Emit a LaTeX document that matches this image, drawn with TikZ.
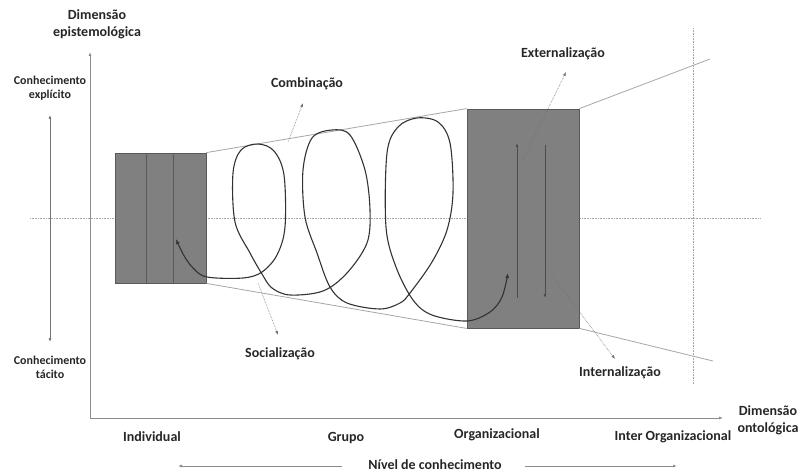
\documentclass[tikz,border=0pt]{standalone}
\usepackage{fontspec}
\setmainfont{Carlito}
\usetikzlibrary{arrows.meta}

\begin{document}
\begin{tikzpicture}[
    x=1pt, y=-1pt,
    lbl/.style={font=\bfseries\fontsize{14}{17}\selectfont, text=black!85, align=center, inner sep=1pt},
    small/.style={lbl, font=\bfseries\fontsize{12}{14}\selectfont},
    tip/.style={-{Latex[length=4pt,width=3pt]}},
    axis/.style={draw=black!45, line width=1pt, tip},
    pointer/.style={draw=black!55, densely dotted, line width=0.6pt, tip},
    block/.style={draw=black!65, fill=black!50, line width=0.8pt, inner sep=0pt},
    guide/.style={draw=black!35, line width=0.8pt},
    grid/.style={draw=black!35, densely dotted, line width=0.6pt},
    spiral/.style={draw=black!80, line width=1.1pt}
]
  \useasboundingbox (0,0) rectangle (801,473);

  % --- GUIDE LINES ---
  \draw[grid] (30,218) -- (760,218);
  \draw[grid] (693,28) -- (693,384);

  % --- AXES ---
  \coordinate (o) at (90,418);
  \coordinate (ytop) at (90,52);
  \coordinate (xend) at (723,418);
  \draw[axis] (o) -- (ytop);
  \draw[axis] (o) -- (xend);

  \node[lbl] (epist) at (97,24) {Dimensão\\epistemológica};
  \node[lbl] (ontol) at (768,420) {Dimensão\\ontológica};

  % tacit / explicit scale
  \node[small] (expl) at (50,88) {Conhecimento\\explícito};
  \node[small] (taci) at (50,367) {Conhecimento\\tácito};
  \coordinate (eup) at (50,115);
  \coordinate (edn) at (50,342);
  \draw[draw=black!55, line width=0.7pt, {Latex[length=4pt,width=3pt]}-{Latex[length=4pt,width=3pt]}] (edn) -- (eup);

  % --- LEVELS ---
  \node[lbl] (indl) at (152,437) {Individual};
  \node[lbl] (grup) at (346,438) {Grupo};
  \node[lbl] (orgl) at (497,435) {Organizacional};
  \node[lbl] (intl) at (673,437) {Inter Organizacional};

  \node[lbl] (nivel) at (435,465) {Nível de conhecimento};
  \coordinate (nl) at (178,466);
  \coordinate (nr) at (677,466);
  \draw[draw=black!45, line width=0.8pt, tip] (nivel.west) ++(-25,1) -- (nl);
  \draw[draw=black!45, line width=0.8pt, tip] (nivel.east) ++(22,1) -- (nr);

  % --- BLOCKS ---
  \node[block, minimum width=91pt, minimum height=130pt] (indiv) at (160.5,218) {};
  \draw[draw=black!65, line width=0.8pt] (146,153) -- (146,283);
  \draw[draw=black!65, line width=0.8pt] (173,153) -- (173,283);
  \node[block, minimum width=112pt, minimum height=219pt] (org) at (523,218.5) {};

  % funnel
  \coordinate (ftop) at (710,59);
  \coordinate (fbot) at (713,361);
  \draw[guide] (indiv.north east) -- (org.north west);
  \draw[guide] (indiv.south east) -- (org.south west);
  \draw[guide] (org.north east) -- (ftop);
  \draw[guide] (org.south east) -- (fbot);

  % up and down inside the organization
  \draw[draw=black!70, line width=0.9pt, tip] (517,298) -- (517,143);
  \draw[draw=black!70, line width=0.9pt, tip] (545,145) -- (545,298);

  % --- SPIRAL ---
  \draw[spiral, {Latex[length=5pt,width=4pt]}-{Latex[length=5pt,width=4pt]}]
    plot[smooth, tension=0.55] coordinates {
      (176,239) (183,254) (193,268) (207,277) (243,278) (262,272) (277,255)
      (285,227) (284,175) (274,151) (258,144) (241,150) (233,173) (235,222)
      (250,253) (262,274) (272,288) (290,295) (323,291) (347,273) (367,243)
      (370,210) (365,170) (350,135) (332,130) (312,138) (303,170) (305,217)
      (317,253) (330,287) (347,303) (380,309) (400,303) (410,293) (432,262)
      (447,230) (453,193) (450,143) (438,122) (417,118) (398,127) (387,153)
      (386,227) (396,267) (413,300) (432,315) (467,321) (490,312) (502,297)
      (508,273)};

  % --- MODES ---
  \node[lbl] (comb) at (307,84) {Combinação};
  \node[lbl] (soci) at (280,354) {Socialização};
  \node[lbl] (exte) at (563,54) {Externalização};
  \node[lbl] (inte) at (620,373) {Internalização};

  \coordinate (cs) at (288,142);  \coordinate (ce) at (303,103);
  \coordinate (ss) at (258,283);  \coordinate (se) at (278,335);
  \coordinate (xs) at (522,162);  \coordinate (xe) at (566,72);
  \coordinate (is) at (548,270);  \coordinate (ie) at (615,359);
  \draw[pointer] (cs) -- (ce);
  \draw[pointer] (ss) -- (se);
  \draw[pointer] (xs) -- (xe);
  \draw[pointer] (is) -- (ie);
\end{tikzpicture}
\end{document}
